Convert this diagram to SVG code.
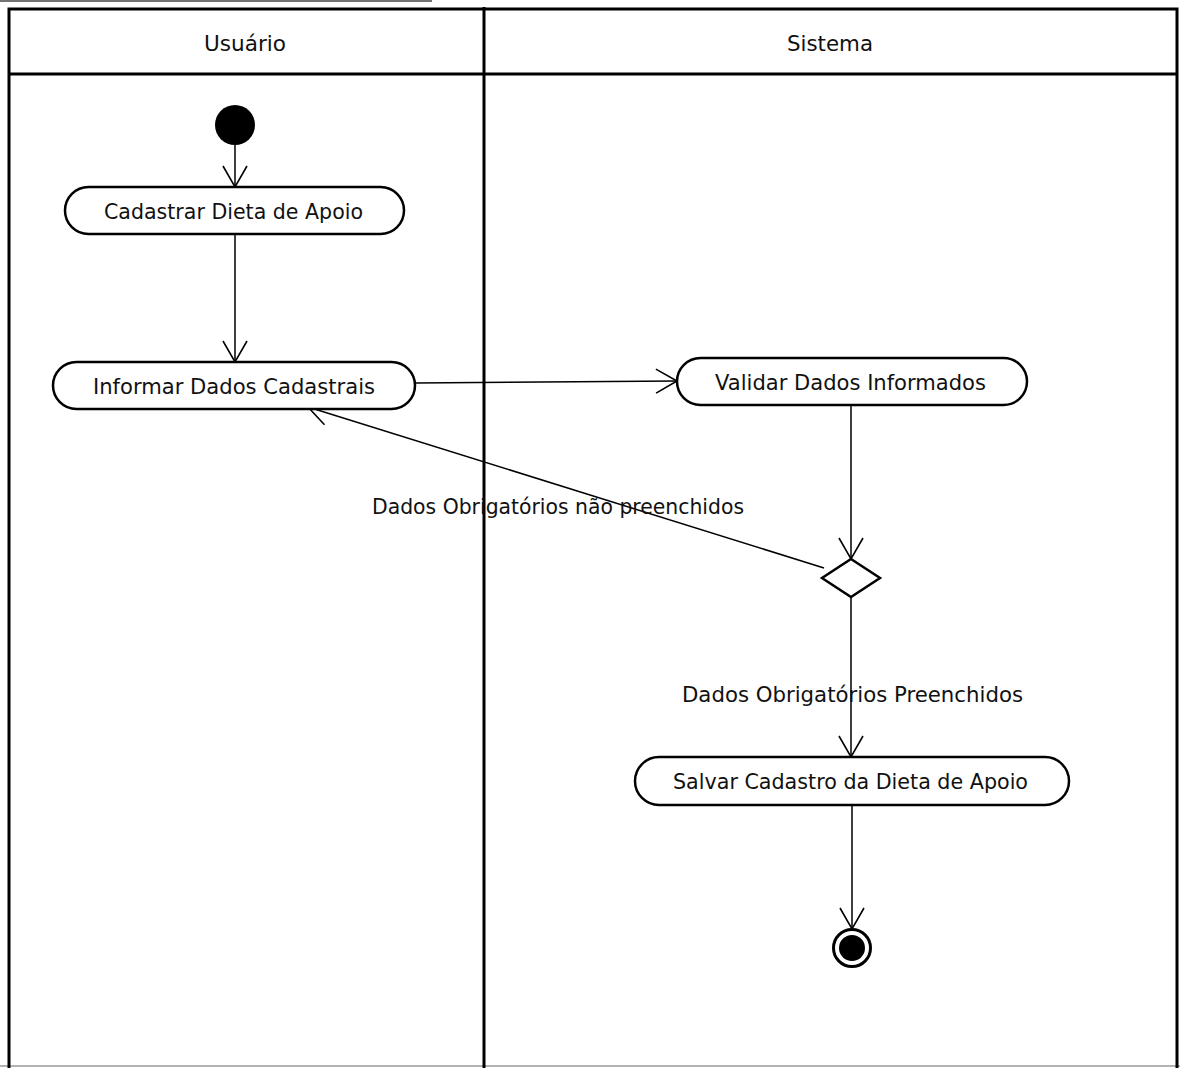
<svg xmlns="http://www.w3.org/2000/svg" width="1180" height="1068" viewBox="0 0 1180 1068">
<style>
.frame{fill:none;stroke:#000;stroke-width:3}
.act{fill:#fff;stroke:#000;stroke-width:2.5}
.conn{fill:none;stroke:#000;stroke-width:1.5}
text{font-family:"DejaVu Sans","Liberation Sans",sans-serif;font-size:21px;fill:#111}
</style>
<defs>
<marker id="open" markerWidth="24" markerHeight="28" refX="22" refY="13" orient="auto" markerUnits="userSpaceOnUse">
<path d="M1,1 L22,13 L1,25" fill="none" stroke="#000" stroke-width="1.6"/>
</marker>
</defs>
<rect width="1180" height="1068" fill="#fff"/>
<line x1="0" y1="1" x2="432" y2="1" stroke="#444" stroke-width="1.5"/>
<line x1="0" y1="1066" x2="1180" y2="1066" stroke="#999" stroke-width="1.5"/>
<g id="swimlanes">
<rect class="frame" x="9" y="9" width="1168" height="1062"/>
<line class="frame" x1="9" y1="74" x2="1177" y2="74"/>
<line class="frame" x1="484" y1="7" x2="484" y2="1068"/>
<text x="204" y="51" textLength="82" lengthAdjust="spacingAndGlyphs">Usuário</text>
<text x="787" y="51" textLength="86" lengthAdjust="spacingAndGlyphs">Sistema</text>
</g>
<g id="connectors">
<line class="conn" x1="235" y1="145" x2="235" y2="187" marker-end="url(#open)"/>
<line class="conn" x1="235" y1="234" x2="235" y2="362" marker-end="url(#open)"/>
<line class="conn" x1="415" y1="383" x2="677" y2="381" marker-end="url(#open)"/>
<line class="conn" x1="851" y1="405" x2="851" y2="559" marker-end="url(#open)"/>
<line class="conn" x1="824" y1="568" x2="308" y2="407" marker-end="url(#open)"/>
<line class="conn" x1="851" y1="597" x2="851" y2="757" marker-end="url(#open)"/>
<line class="conn" x1="852" y1="805" x2="852" y2="929" marker-end="url(#open)"/>
<text x="372" y="514" textLength="372" lengthAdjust="spacingAndGlyphs">Dados Obrigatórios não preenchidos</text>
<text x="682" y="702" textLength="341" lengthAdjust="spacingAndGlyphs">Dados Obrigatórios Preenchidos</text>
</g>
<g id="start"><circle cx="235" cy="125" r="20" fill="#000"/></g>
<g id="cadastrar">
<rect class="act" x="65" y="187" width="339" height="47" rx="23.5"/>
<text x="104" y="219" textLength="259" lengthAdjust="spacingAndGlyphs">Cadastrar Dieta de Apoio</text>
</g>
<g id="informar">
<rect class="act" x="53" y="362" width="362" height="47" rx="23.5"/>
<text x="93" y="394" textLength="282" lengthAdjust="spacingAndGlyphs">Informar Dados Cadastrais</text>
</g>
<g id="validar">
<rect class="act" x="677" y="358" width="350" height="47" rx="23.5"/>
<text x="715" y="390" textLength="271" lengthAdjust="spacingAndGlyphs">Validar Dados Informados</text>
</g>
<g id="decisao">
<polygon class="act" points="851,559 880,578 851,597 822,578"/>
</g>
<g id="salvar">
<rect class="act" x="635" y="757" width="434" height="48" rx="24"/>
<text x="673" y="789" textLength="355" lengthAdjust="spacingAndGlyphs">Salvar Cadastro da Dieta de Apoio</text>
</g>
<g id="final">
<circle cx="852" cy="948" r="18.5" fill="#fff" stroke="#000" stroke-width="3"/>
<circle cx="852" cy="948" r="13" fill="#000"/>
</g>
</svg>
